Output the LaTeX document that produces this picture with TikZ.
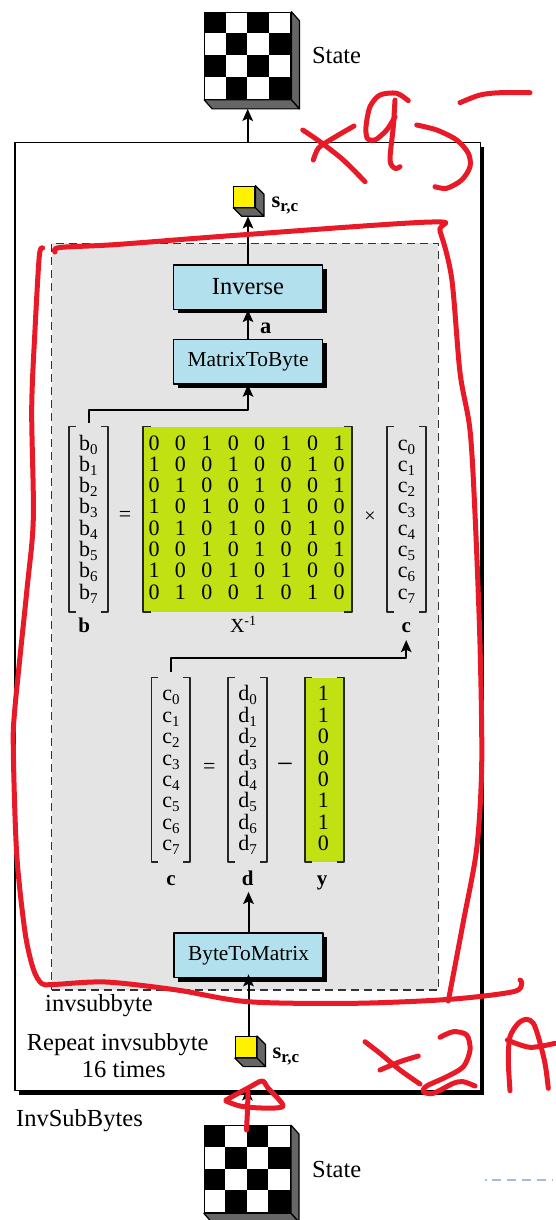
\documentclass[tikz,border=0pt]{standalone}
\usepackage{fontspec}
\setmainfont{Liberation Serif}
\usepackage{tikz}
\usetikzlibrary{calc}
\usetikzlibrary{positioning}
\usetikzlibrary{shadows}
\usetikzlibrary{arrows.meta}

\definecolor{boxblue}{RGB}{178,225,237}
\definecolor{lime}{RGB}{193,225,18}
\definecolor{panelgray}{RGB}{228,228,228}
\definecolor{cubeside}{RGB}{102,102,102}
\definecolor{inkred}{RGB}{232,26,40}
\definecolor{pageblue}{RGB}{168,188,210}

% lowered index, as in b0 ... b7
\newcommand\lowidx[2][15]{\raisebox{-4pt}{\fontsize{#1}{#1}\selectfont #2}}

\tikzset{
	>={Stealth[length=12pt,width=10.5pt,inset=2.5pt]},
	conn/.style={->, line width=2pt},
	frame/.style={
		rectangle,
		draw=black, line width=1.3pt,
		fill=white,
		inner sep=0pt,
		drop shadow={shadow xshift=4pt, shadow yshift=-4pt, fill=black, opacity=1}},
	panel/.style={
		rectangle,
		draw=black!80, line width=1.4pt,
		dash pattern=on 8pt off 5pt,
		fill=panelgray,
		inner sep=0pt},
	funcbox/.style={
		rectangle,
		draw=black, line width=1.5pt,
		fill=boxblue,
		minimum width=149pt,
		minimum height=44.5pt,
		inner sep=0pt,
		font=\fontsize{21.4}{24}\selectfont,
		drop shadow={shadow xshift=4pt, shadow yshift=-4pt, fill=black, opacity=1}},
	board/.style={rectangle, draw=black, line width=1.2pt, fill=white,
		minimum width=86pt, minimum height=87pt, inner sep=0pt},
	cube/.style={rectangle, draw=black, line width=1.2pt, fill=yellow,
		minimum size=21pt, inner sep=0pt},
	side/.style={fill=cubeside, draw=black, line width=1.2pt},
	vecbox/.style={rectangle, inner sep=0pt, minimum width=38.5pt, minimum height=185pt},
	bracket/.style={draw=black!85, line width=1.8pt},
	entry/.style={anchor=base, inner sep=0pt, font=\fontsize{22}{22}\selectfont},
	vlabel/.style={anchor=base, inner sep=0pt, font=\bfseries\fontsize{21}{22}\selectfont},
	op/.style={inner sep=0pt, font=\fontsize{22}{22}\selectfont},
	txt/.style={inner sep=0pt, font=\fontsize{24.5}{28}\selectfont},
	tag/.style={inner sep=0pt, font=\bfseries\fontsize{22.5}{24}\selectfont},
	scribble/.style={draw=inkred, line width=5pt, line cap=round, line join=round},
}

% grey depth faces on the right and bottom of a node
\newcommand\depthfaces[3]{%
	\filldraw[side] (#1.north east) -- ++(#2,#3) -- ($(#1.south east)+(#2,#3)$) -- (#1.south east) -- cycle;
	\filldraw[side] (#1.south west) -- ($(#1.south west)+(#2,#3)$) -- ($(#1.south east)+(#2,#3)$) -- (#1.south east) -- cycle;
}
% black squares of the 4x4 state
\newcommand\checkers[1]{%
	\foreach \r in {0,...,3}
	\foreach \c in {0,...,3}{
		\pgfmathtruncatemacro\odd{mod(\r+\c,2)}
		\ifnum\odd=0
		\fill ($(#1.north west)+(21.5*\c,21.75*\r)$) rectangle ++(21.5,21.75);
		\fi
	}%
}
% square brackets round a vector node
\newcommand\vbrackets[2]{%
	\draw[bracket] ($(#1.north west)+(#2,0)$) -- (#1.north west) -- (#1.south west) -- ++(#2,0);
	\draw[bracket] ($(#1.north east)+(-#2,0)$) -- (#1.north east) -- (#1.south east) -- ++(-#2,0);
}

\begin{document}
\begin{tikzpicture}[x=1pt, y=-1pt, line join=round]
	\useasboundingbox (0,0) rectangle (555,1220);

	% InvSubBytes frame and the invsubbyte panel
	\node[frame, minimum width=465.4pt, minimum height=948pt] (isb) at (247.7,616.7) {};
	\node[panel, minimum width=386.6pt, minimum height=746.7pt] (loop) at (245,616.65) {};

	%% states
	\node[board] (topstate) at (247.8,55.8) {};
	\checkers{topstate}
	\depthfaces{topstate}{8}{9}
	\node[txt, right=20.5pt of topstate] (toplabel) {State};
	\coordinate (topbase) at ($(topstate.south)+(0,9)$);

	\node[board] (botstate) at (247.4,1169.2) {};
	\checkers{botstate}
	\depthfaces{botstate}{8}{9}
	\node[txt, right=21pt of botstate] (botlabel) {State};

	%% the single bytes
	\node[cube] (topcube) at (244.3,196.7) {};
	\depthfaces{topcube}{8.5}{8.5}
	\coordinate (cubebase) at ($(topcube.south)+(0,8.5)$);
	\node[tag, anchor=base west] (toptag) at ($(topcube.south east)+(16,0)$) {s\lowidx[17]{r,c}};

	\node[cube] (botcube) at (245.9,1047) {};
	\depthfaces{botcube}{8.5}{8.5}
	\node[tag, anchor=base west] (bottag) at ($(botcube.south east)+(15.5,0)$) {s\lowidx[17]{r,c}};

	%% boxes
	\node[funcbox, font=\fontsize{24.5}{28}\selectfont] (inv) at (248,287) {Inverse};
	\node[funcbox, below=28.7pt of inv] (m2b) {MatrixToByte};
	\node[funcbox] (b2m) at (248.5,955.3) {ByteToMatrix};

	%% b = X^-1 x c
	\node[vecbox] (bvec) at (88.5,519.2) {};
	\node[vecbox, fill=lime, minimum width=208.4pt] (xinv) at (247.5,519.2) {};
	\node[vecbox] (cvec) at (406.3,519.2) {};
	\vbrackets{bvec}{7}
	\vbrackets{xinv}{8}
	\vbrackets{cvec}{7}
	\foreach \k in {0,...,7}{
		\node[entry] at (88.3,{450+21.3*\k}) {b\lowidx{\k}};
		\node[entry] at (406.6,{450+21.3*\k}) {c\lowidx{\k}};
	}
	\foreach \row [count=\r from 0] in {{0,0,1,0,0,1,0,1},{1,0,0,1,0,0,1,0},{0,1,0,0,1,0,0,1},{1,0,1,0,0,1,0,0},{0,1,0,1,0,0,1,0},{0,0,1,0,1,0,0,1},{1,0,0,1,0,1,0,0},{0,1,0,0,1,0,1,0}}
	\foreach \v [count=\c from 0] in \row
	\node[entry] at ({154+26.43*\c},{450+21.3*\r}) {\v};
	\node[op] (eqa) at (125,516.7) {=};
	\node[op, font=\fontsize{20}{20}\selectfont] (times) at (370,517.3) {×};
	\node[vlabel] (blab) at (84.2,632.7) {b};
	\node[vlabel, font=\fontsize{20}{22}\selectfont] (xlab) at (243.3,632.7) {X\textsuperscript{-1}};
	\node[vlabel] (clab) at (406.2,632.7) {c};

	%% c = d - y
	\node[vecbox, minimum height=184pt] (cnew) at (170.9,769.7) {};
	\node[vecbox, minimum height=184pt] (dvec) at (247.5,769.7) {};
	\node[vecbox, minimum height=184pt, fill=lime] (yvec) at (324.2,769.7) {};
	\vbrackets{cnew}{7}
	\vbrackets{dvec}{7}
	\vbrackets{yvec}{7}
	\foreach \v [count=\k from 0] in {1,1,0,0,0,1,1,0}{
		\node[entry] at (170.9,{700.8+21.4*\k}) {c\lowidx{\k}};
		\node[entry] at (247.5,{700.8+21.4*\k}) {d\lowidx{\k}};
		\node[entry] at (323.3,{700.8+21.4*\k}) {\v};
	}
	\node[op] (eqb) at (209.3,768.3) {=};
	\node[op, font=\fontsize{29}{29}\selectfont] (minus) at (285,768.3) {−};
	\node[vlabel] (c2lab) at (171,885) {c};
	\node[vlabel] (dlab) at (247.8,885) {d};
	\node[vlabel] (ylab) at (322,885) {y};

	%% texts of the frame
	\node[txt, anchor=base west] (sub) at (45,1011.7) {invsubbyte};
	\node[txt, anchor=base west] (rep) at (26.7,1050) {Repeat invsubbyte};
	\node[txt, anchor=base west] (reptimes) at (81.7,1077.3) {16 times};
	\node[txt, anchor=base west] (isbname) at (16,1126) {InvSubBytes};

	% Now the connectors
	\draw[conn, shorten >=-3pt] (botstate.north) -- (botstate.north |- isb.south);
	\draw[conn, shorten >=-4pt] (botcube.north -| b2m.south) -- (b2m.south);
	\draw[conn, shorten >=6.5pt] (b2m.north) -- (b2m.north |- dlab.south);
	\draw[conn, shorten <=6pt, shorten >=7pt] (cnew.north) -- ++(0,-19.4) -| (clab.south);
	\draw[conn, shorten <=4pt] (bvec.north) -- ++(0,-16.7) -| (m2b.south);
	\draw[conn] (m2b.north) -- (inv.south);
	\node[tag, anchor=base west] (alab) at ($(m2b.north)+(12,-5.4)$) {a};
	\draw[conn] (inv.north) -- (inv.north |- cubebase);
	\draw[conn] (isb.north) -- (isb.north |- topbase);

	% red pen marks on top
	\draw[scribble] plot[smooth] coordinates {(42.7,248) (39.3,256) (35,330) (31.7,409) (33.3,519) (26.7,592) (15,707) (13.3,749) (16.7,854) (25,932) (33.3,969) (41.7,983.5) (53.3,984.5) (106,982) (177,990) (248,1001.7) (354,1003.3) (450,999.3) (513.3,991.7) (521.7,983.3) (520,980)};
	\draw[scribble] plot[smooth] coordinates {(55,252) (60,247.5) (116.7,244.5) (240,235) (431.7,222) (440,231.4) (451.7,278.5) (460,372.6) (470,430) (475,513.8) (480,644.6) (481.7,764.9) (476.7,848.5) (463.3,921.8) (448.3,1001)};
	% x95
	\draw[scribble] plot[smooth] coordinates {(302.7,130) (320,141.7) (343.3,160) (365,181.7)};
	\draw[scribble] plot[smooth] coordinates {(354,126) (330,140) (318.3,148.3) (313.3,160)};
	\draw[scribble] plot[smooth] coordinates {(408.3,100.7) (396.7,93.3) (380,95) (370,106.7) (366,126.7) (367.3,138.3) (375,140) (386.7,130) (395,116.7)};
	\draw[scribble] plot[smooth] coordinates {(395,100) (393.3,126.7) (390,160) (395,168.3) (400,166.7)};
	\draw[scribble] plot[smooth] coordinates {(416.7,125) (436.7,130) (456.7,140) (468.3,153.3) (470,166.7) (461.7,180) (446.7,188.3) (435,186.7)};
	\draw[scribble] plot[smooth] coordinates {(460,102.7) (480,95) (500,92.7) (530,92.7)};
	% x2A
	\draw[scribble] plot[smooth] coordinates {(365,1041.7) (380,1053.3) (400,1070) (420,1084)};
	\draw[scribble] plot[smooth] coordinates {(418.3,1056) (400,1061.7) (380,1070)};
	\draw[scribble] plot[smooth] coordinates {(440,1037.3) (453.3,1031.7) (466.7,1035) (470,1050) (463.3,1066.7) (446.7,1076.7) (426.7,1086) (423.3,1091.7) (433.3,1093.3) (453.3,1083.3) (463.3,1081.7) (475,1086)};
	\draw[scribble] plot[smooth] coordinates {(510,1090.7) (508.3,1060) (510,1036.7) (518.3,1023.3) (526.7,1019.3) (533.3,1023.3) (538.3,1036.7) (545,1063.3) (548.3,1088.3)};
	\draw[scribble] plot[smooth] coordinates {(507.3,1040) (530,1047.3) (555,1043.3)};
	% arrow
	\draw[scribble] plot[smooth] coordinates {(226,1100) (248,1088) (262,1081) (268,1088) (283,1106) (262,1108) (240,1106) (226,1101)};
	\draw[scribble] plot[smooth] coordinates {(248,1092) (247.5,1110) (246.5,1130)};

	\draw[pageblue, line width=1.5pt, dash pattern=on 1.5pt off 5pt on 9pt off 6pt on 9pt off 6pt on 9pt off 6pt on 9pt off 6pt] (485,1180) -- (555,1180);
\end{tikzpicture}
\end{document}
